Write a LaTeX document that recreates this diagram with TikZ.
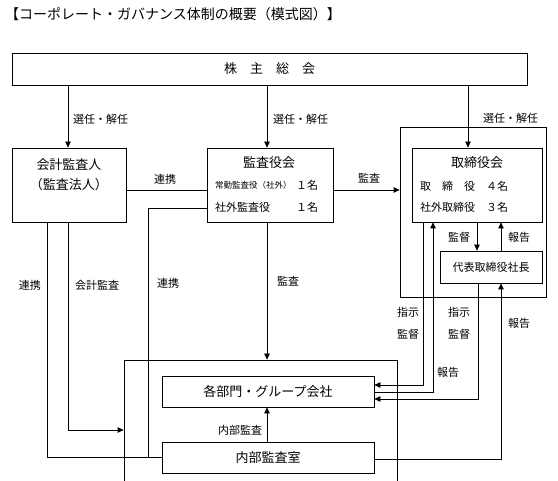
\documentclass[tikz,border=0pt]{standalone}
\usepackage{fontspec}
\setmainfont{Noto Sans CJK JP}
\usetikzlibrary{arrows.meta}
\begin{document}
\begin{tikzpicture}[x=1pt,y=-1pt,
  ln/.style={line width=0.8pt},
  box/.style={draw, line width=0.8pt, inner sep=0pt},
  arr/.style={ln, -{Triangle[length=6pt,width=5.5pt]}},
  big/.style={font=\fontsize{13}{15}\selectfont, inner sep=0pt},
  lab/.style={font=\fontsize{11}{13}\selectfont, inner sep=0pt},
  sml/.style={font=\fontsize{8.5}{10}\selectfont, inner sep=0pt},
  ttl/.style={font=\fontsize{14}{16}\selectfont, inner sep=0pt}]
\useasboundingbox (0,0) rectangle (558,481);
\path[clip] (0,0) rectangle (558,481);
\fill[white] (0,0) rectangle (558,481);

% helper coordinates
\coordinate (c47) at (47,0);
\coordinate (c68) at (68,0);
\coordinate (c148) at (148,0);
\coordinate (c267) at (267,0);
\coordinate (c423) at (423,0);
\coordinate (c433) at (433,0);
\coordinate (c468) at (468,0);
\coordinate (c477) at (477,0);
\coordinate (c478) at (478,0);
\coordinate (c501) at (501,0);
\coordinate (r190) at (0,190);
\coordinate (r208) at (0,208);
\coordinate (r385) at (0,385);
\coordinate (r392) at (0,392);
\coordinate (r399) at (0,399);
\coordinate (r430) at (0,430);
\coordinate (r457) at (0,457);
\coordinate (r459) at (0,459);

% title
\node[ttl, anchor=west] (title) at (5,14) {【コーポレート・ガバナンス体制の概要（模式図）】};

% boxes
\node[box, big, minimum width=515pt, minimum height=32pt] (agm) at (269.5,69) {株　主　総　会};
\node[box, minimum width=114pt, minimum height=74pt] (cpa) at (69,185) {};
\node[box, minimum width=126pt, minimum height=74pt] (kansa) at (270,185) {};
\node[box, minimum width=146pt, minimum height=170pt] (outerR) at (473,212) {};
\node[box, minimum width=130pt, minimum height=74pt] (board) at (477,185) {};
\node[box, lab, minimum width=102pt, minimum height=32pt] (ceo) at (491,267) {代表取締役社長};
\node[box, minimum width=273pt, minimum height=140pt] (outerL) at (260.5,430) {};
\node[box, big, minimum width=212pt, minimum height=31pt] (group) at (268,391.5) {各部門・グループ会社};
\node[box, big, minimum width=212pt, minimum height=31pt] (audit) at (268,457.5) {内部監査室};

% box texts
\node[big] (cpa1) at (69,165) {会計監査人};
\node[big] (cpa2) at (69,185) {（監査法人）};
\node[big] (kansa1) at (269,163) {監査役会};
\node[sml, anchor=west] (kansa2) at (215,185) {常勤監査役（社外）};
\node[lab, anchor=west] (kansa3) at (296,185) {１名};
\node[lab, anchor=west] (kansa4) at (215,207) {社外監査役};
\node[lab, anchor=west] (kansa5) at (296,207) {１名};
\node[big] (board1) at (477,163) {取締役会};
\node[lab, anchor=west] (board2) at (420,186) {取　締　役　４名};
\node[lab, anchor=west] (board3) at (420,207) {社外取締役　３名};

% connectors
\draw[arr] (agm.south -| c68) -- (cpa.north -| c68);
\draw[arr] (agm.south -| c267) -- (kansa.north -| c267);
\draw[arr] (agm.south -| c468) -- (board.north -| c468);
\draw[ln] (cpa.east |- r190) -- (kansa.west |- r190);
\draw[arr] (kansa.east |- r190) -- (outerR.west |- r190);
\draw[arr] (board.south -| c477) -- (ceo.north -| c477);
\draw[arr] (ceo.north -| c501) -- (board.south -| c501);
\draw[arr] (board.south -| c423) |- (group.east |- r385);
\draw[arr] (group.east |- r392) -| (board.south -| c433);
\draw[arr] (ceo.south -| c478) |- (group.east |- r399);
\draw[arr] (audit.east |- r459) -| (ceo.south -| c501);
\draw[arr] (audit.north -| c267) -- (group.south -| c267);
\draw[arr] (kansa.south -| c267) -- (outerL.north -| c267);
\draw[arr] (cpa.south -| c68) |- (outerL.west |- r430);
\draw[ln] (cpa.south -| c47) |- (audit.west |- r457);
\draw[ln] (kansa.west |- r208) -| (c148 |- r457);

% labels
\node[lab, anchor=west] (l1) at (73,119) {選任・解任};
\node[lab, anchor=west] (l2) at (273,119) {選任・解任};
\node[lab, anchor=west] (l3) at (483,118) {選任・解任};
\node[lab] (l4) at (165,179) {連携};
\node[lab] (l5) at (369,178) {監査};
\node[lab] (l6) at (459,237) {監督};
\node[lab] (l7) at (519,237) {報告};
\node[lab] (l8) at (408,312) {指示};
\node[lab] (l9) at (408,334) {監督};
\node[lab] (l10) at (459,312) {指示};
\node[lab] (l11) at (459,334) {監督};
\node[lab] (l12) at (448,372) {報告};
\node[lab] (l13) at (519,323) {報告};
\node[lab] (l14) at (30,285) {連携};
\node[lab] (l15) at (97,285) {会計監査};
\node[lab] (l16) at (168,283) {連携};
\node[lab] (l17) at (288,281) {監査};
\node[lab] (l18) at (240,430) {内部監査};
\end{tikzpicture}
\end{document}
